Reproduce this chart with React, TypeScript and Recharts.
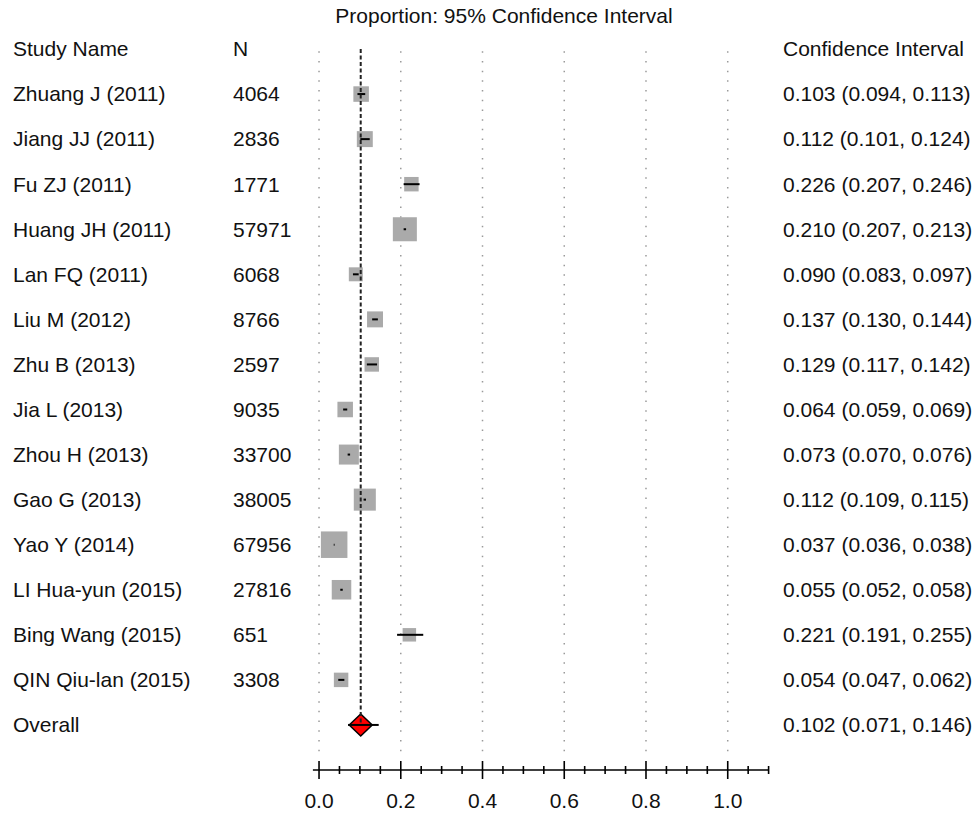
import { ScatterChart, Scatter, XAxis, YAxis, ErrorBar, ReferenceLine } from 'recharts'

const studyNames = [
  'Zhuang J (2011)',
  'Jiang JJ (2011)',
  'Fu ZJ (2011)',
  'Huang JH (2011)',
  'Lan FQ (2011)',
  'Liu M (2012)',
  'Zhu B (2013)',
  'Jia L (2013)',
  'Zhou H (2013)',
  'Gao G (2013)',
  'Yao Y (2014)',
  'LI Hua-yun (2015)',
  'Bing Wang (2015)',
  'QIN Qiu-lan (2015)',
]
const sampleSizes = [4064, 2836, 1771, 57971, 6068, 8766, 2597, 9035, 33700, 38005, 67956, 27816, 651, 3308]
const estimates = [0.103, 0.112, 0.226, 0.21, 0.09, 0.137, 0.129, 0.064, 0.073, 0.112, 0.037, 0.055, 0.221, 0.054]
const lowerCI = [0.094, 0.101, 0.207, 0.207, 0.083, 0.13, 0.117, 0.059, 0.07, 0.109, 0.036, 0.052, 0.191, 0.047]
const upperCI = [0.113, 0.124, 0.246, 0.213, 0.097, 0.144, 0.142, 0.069, 0.076, 0.115, 0.038, 0.058, 0.255, 0.062]
// relative weights (%)
const weights = [5.3, 5.6, 4.6, 12.7, 4.3, 5.6, 4.6, 5.3, 8.8, 10.7, 15.5, 8.4, 4.0, 4.6]

const overallEstimate = 0.102
const overallLower = 0.071
const overallUpper = 0.146

const axisTicks = [
  0, 0.05, 0.1, 0.15, 0.2, 0.25, 0.3, 0.35, 0.4, 0.45, 0.5, 0.55, 0.6, 0.65, 0.7, 0.75, 0.8, 0.85, 0.9, 0.95, 1.0,
  1.05, 1.1,
]
const labelledTicks = [0, 0.2, 0.4, 0.6, 0.8, 1.0]

const FONT = '"Liberation Sans", Arial, Helvetica, sans-serif'
const overallRow = studyNames.length

const studyData = studyNames.map((name, i) => ({
  name,
  row: i,
  est: estimates[i],
  weight: weights[i],
}))
const overallData = [{ name: 'Overall', row: overallRow, est: overallEstimate }]
const ciData = [
  ...studyNames.map((_, i) => ({
    row: i,
    est: estimates[i],
    err: [estimates[i] - lowerCI[i], upperCI[i] - estimates[i]],
  })),
  { row: overallRow, est: overallEstimate, err: [overallEstimate - overallLower, overallUpper - overallEstimate] },
]
const rowTicks = Array.from({ length: studyNames.length + 2 }, (_, i) => i - 1)

const fmt = (v: number) => v.toFixed(3)

function RowTick({ y, payload }: any) {
  const i = payload.value
  const textProps = { fontFamily: FONT, fontSize: 21, fill: '#111', dy: '0.35em' }
  let name = ''
  let n = ''
  let ci = ''
  if (i === -1) {
    name = 'Study Name'
    n = 'N'
    ci = 'Confidence Interval'
  } else if (i === overallRow) {
    name = 'Overall'
    ci = `${fmt(overallEstimate)} (${fmt(overallLower)}, ${fmt(overallUpper)})`
  } else {
    name = studyNames[i]
    n = String(sampleSizes[i])
    ci = `${fmt(estimates[i])} (${fmt(lowerCI[i])}, ${fmt(upperCI[i])})`
  }
  return (
    <g>
      {i === -1 && (
        <text {...textProps} x={504} y={y - 33} textAnchor="middle">
          Proportion: 95% Confidence Interval
        </text>
      )}
      <text {...textProps} x={13} y={y}>
        {name}
      </text>
      <text {...textProps} x={233} y={y}>
        {n}
      </text>
      <text {...textProps} x={783} y={y}>
        {ci}
      </text>
    </g>
  )
}

function AxisTick({ x, y, payload }: any) {
  const v = payload.value
  const major = labelledTicks.some((t) => Math.abs(t - v) < 1e-9)
  const h = major ? 9 : 4
  return (
    <g>
      <line x1={x} x2={x} y1={y - h} y2={y + h} stroke="#000" strokeWidth={1.6} />
      {major && (
        <text x={x} y={y + 31} dy="0.35em" textAnchor="middle" fontFamily={FONT} fontSize={21} fill="#111">
          {v.toFixed(1)}
        </text>
      )}
    </g>
  )
}

function BoxShape({ cx, cy, payload }: any) {
  const s = Math.sqrt(payload.weight * 45.4)
  return <rect x={cx - s / 2} y={cy - s / 2} width={s} height={s} fill="#aaaaaa" />
}

function DiamondShape({ cx, cy }: any) {
  const w = 11.5
  const h = 11
  return (
    <path
      d={`M${cx - w},${cy}L${cx},${cy - h}L${cx + w},${cy}L${cx},${cy + h}Z`}
      fill="#ff0000"
      stroke="#000"
      strokeWidth={1.5}
    />
  )
}

export default function App() {
  return (
    <div style={{ width: 979, height: 815 }}>
      <style>{'body{margin:0}'}</style>
      <ScatterChart width={979} height={815} margin={{ top: 49, right: 210.4, bottom: 0, left: 0 }}>
        <XAxis
          type="number"
          dataKey="est"
          domain={[-0.015, 1.1]}
          ticks={axisTicks}
          interval={0}
          height={45}
          tickSize={0}
          tickMargin={0}
          tickLine={false}
          axisLine={{ stroke: '#000', strokeWidth: 1.6 }}
          tick={<AxisTick />}
        />
        <YAxis
          type="number"
          dataKey="row"
          domain={[-1, 15]}
          reversed
          ticks={rowTicks}
          interval={0}
          width={312.9}
          tickSize={0}
          tickMargin={0}
          tickLine={false}
          axisLine={false}
          tick={<RowTick />}
        />
        {labelledTicks.map((t) => (
          <ReferenceLine
            key={t}
            segment={[
              { x: t, y: -0.95 },
              { x: t, y: 14.6 },
            ]}
            stroke="#9a9a9a"
            strokeWidth={1.5}
            strokeDasharray="1.5 8.2"
            zIndex={-50}
          />
        ))}
        <Scatter data={studyData} shape={<BoxShape />} isAnimationActive={false} />
        <Scatter data={overallData} shape={<DiamondShape />} isAnimationActive={false} />
        <Scatter data={ciData} shape={() => <g />} isAnimationActive={false} zIndex={900}>
          <ErrorBar dataKey="err" direction="x" width={0} stroke="#000" strokeWidth={2} zIndex={900} />
        </Scatter>
        <ReferenceLine
          segment={[
            { x: overallEstimate, y: -1 },
            { x: overallEstimate, y: 14 },
          ]}
          stroke="#222"
          strokeWidth={2}
          strokeDasharray="4 2.5"
          zIndex={950}
        />
      </ScatterChart>
    </div>
  )
}
